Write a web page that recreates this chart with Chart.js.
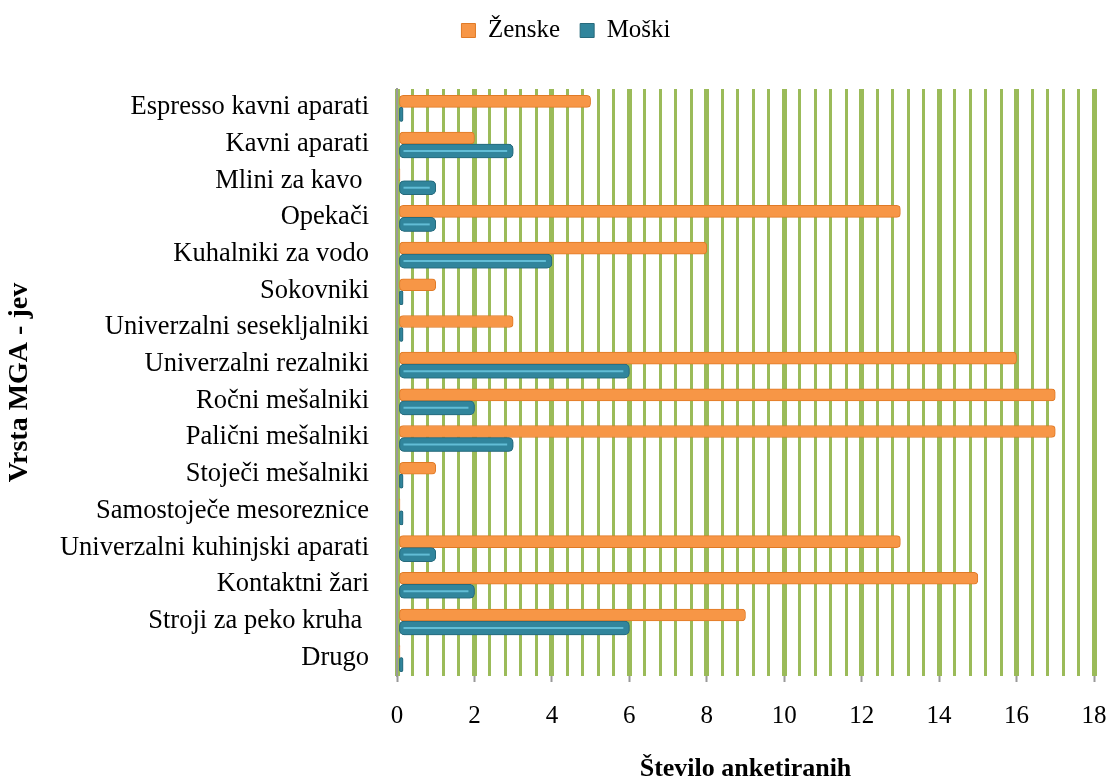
<!DOCTYPE html>
<html>
<head>
<meta charset="utf-8">
<script src="https://cdn.jsdelivr.net/npm/chart.js@4/dist/chart.umd.min.js"></script>
<style>
  html, body { margin: 0; padding: 0; background: #fff; }
</style>
</head>
<body>
<canvas id="myChart" width="1106" height="778"></canvas>
<script>
const categories = ["Espresso kavni aparati", "Kavni aparati", "Mlini za kavo ", "Opekači", "Kuhalniki za vodo",
    "Sokovniki", "Univerzalni sesekljalniki", "Univerzalni rezalniki", "Ročni mešalniki", "Palični mešalniki",
    "Stoječi mešalniki", "Samostoječe mesoreznice", "Univerzalni kuhinjski aparati", "Kontaktni žari",
    "Stroji za peko kruha ", "Drugo"];
const zenske = [5, 2, 0, 13, 8, 1, 3, 16, 17, 17, 1, 0, 13, 15, 9, 0];
const moski = [0, 3, 1, 1, 4, 0, 0, 6, 2, 3, 0, 0, 1, 2, 6, 0];
const xTickLabels = [0, 2, 4, 6, 8, 10, 12, 14, 16, 18];

Chart.defaults.color = '#000';
Chart.defaults.font.family = "'Liberation Serif', 'Times New Roman', serif";
Chart.defaults.font.size = 25;

const isMajor = v => xTickLabels.some(t => Math.abs(t - v) < 1e-6);

// teal bars go over the orange ones, with a light stripe along them
const bars3d = {
    id: 'bars3d',
    afterDatasetsDraw(chart) {
        const c = chart.ctx;
        const meta = chart.getDatasetMeta(1);
        c.save();
        c.beginPath();
        c.rect(chart.chartArea.left, chart.chartArea.top, chart.chartArea.width, chart.chartArea.height);
        c.clip();
        meta.data.forEach(bar => bar.draw(c));
        c.strokeStyle = '#62bdd6';
        c.lineWidth = 2;
        meta.data.forEach(bar => {
            const p = bar.getProps(['x', 'y', 'base'], true);
            if (p.x - p.base > 12) {
                c.beginPath();
                c.moveTo(p.base + 4, p.y);
                c.lineTo(p.x - 6, p.y);
                c.stroke();
            }
        });
        c.restore();
    },
    beforeDraw(chart) {
        // move the legend up and a little right, where the original has it
        if (!chart.$legendMoved) {
            const lg = chart.legend, dx = 19, dy = -36;
            lg.left += dx; lg.right += dx;
            lg.top += dy; lg.bottom += dy;
            lg.legendHitBoxes.forEach(h => { h.left += dx; h.top += dy; });
            chart.$legendMoved = true;
        }
    }
};

new Chart(document.getElementById('myChart'), {
    type: 'bar',
    data: {
        labels: categories,
        datasets: [
            {
                label: 'Ženske',
                data: zenske,
                backgroundColor: '#F79646',
                borderColor: '#E07A26',
                borderWidth: 1,
                borderRadius: 4,
                borderSkipped: false,
                barThickness: 12,
                minBarLength: 3,
            },
            {
                label: 'Moški',
                data: moski,
                backgroundColor: '#31859C',
                borderColor: '#276a7c',
                borderWidth: 1,
                borderRadius: 5,
                borderSkipped: false,
                barThickness: 14,
                minBarLength: 6,
            },
        ]
    },
    plugins: [bars3d],
    options: {
        indexAxis: 'y',
        responsive: false,
        animation: false,
        categoryPercentage: 0.41,
        layout: { padding: { top: 34, right: 12, bottom: 0, left: 0 } },
        plugins: {
            legend: {
                position: 'top',
                labels: { boxWidth: 14, boxHeight: 14, padding: 20, font: { size: 25 } },
            },
            tooltip: { enabled: false },
        },
        scales: {
            x: {
                min: 0,
                max: 18,
                ticks: {
                    stepSize: 0.4,
                    autoSkip: false,
                    maxRotation: 0,
                    padding: 19,
                    font: { size: 25 },
                    callback: v => isMajor(v) ? Math.round(v) : '',
                },
                grid: {
                    color: '#9BBB59',
                    lineWidth: ctx => isMajor(ctx.tick.value) ? 5 : 3,
                    drawTicks: true,
                    tickLength: 6,
                    tickColor: '#999',
                    tickWidth: ctx => isMajor(ctx.tick.value) ? 2 : 0,
                },
                border: { display: false },
                title: {
                    display: true,
                    text: 'Število anketiranih',
                    font: { size: 26, weight: 'bold', lineHeight: 1 },
                    padding: { top: 10, bottom: -4 },
                },
                afterFit: s => { s.height = 102; s.paddingLeft = 0; s.paddingRight = 0; },
            },
            y: {
                grid: { display: false },
                border: { display: true, color: '#999', width: 2 },
                ticks: { padding: 20, font: { size: 26.5 } },
                title: {
                    display: true,
                    text: 'Vrsta MGA - jev',
                    font: { size: 28, weight: 'bold', lineHeight: 1 },
                    padding: { top: 6, bottom: 0 },
                },
                afterFit: s => { s.width = 397; },
            },
        },
    },
});
</script>
</body>
</html>
